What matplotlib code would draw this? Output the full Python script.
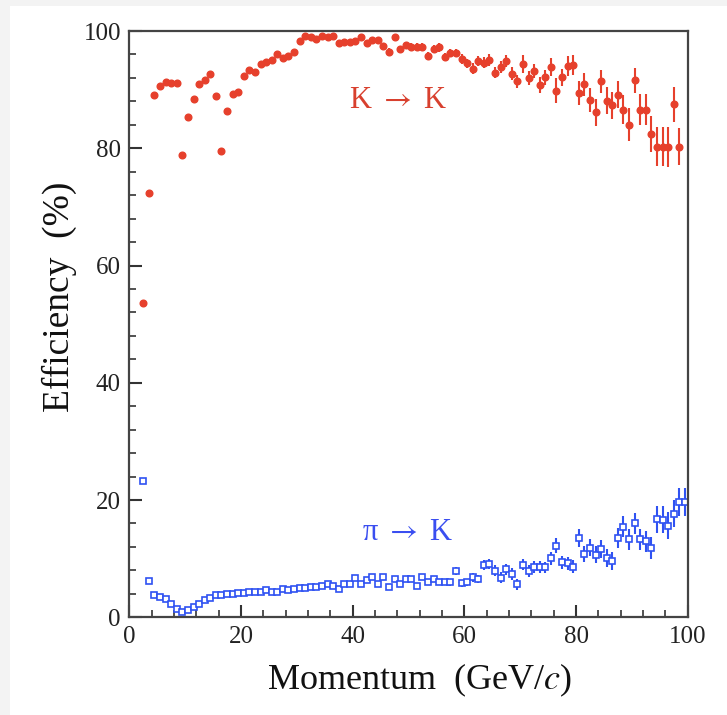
import matplotlib
matplotlib.use("Agg")
from matplotlib import pyplot as plt
from matplotlib.patches import Rectangle
from matplotlib.ticker import MultipleLocator

plt.rcParams['font.family'] = ['Liberation Serif', 'DejaVu Serif']
plt.rcParams['mathtext.fontset'] = 'stix'

# K -> K efficiency (%), bins of 1 GeV/c
k_p = [i + 0.5 for i in range(2, 99)]
k_eff = [53.6, 72.4, 89.0, 90.7, 91.3, 91.2, 91.2, 78.8, 85.4, 88.4,
         90.9, 91.7, 92.6, 88.9, 79.6, 86.3, 89.3, 89.6, 92.3, 93.4,
         93.0, 94.4, 94.7, 95.1, 96.1, 95.4, 95.7, 96.4, 98.3, 99.1,
         98.9, 98.6, 99.2, 98.9, 99.2, 97.9, 98.1, 98.1, 98.3, 98.9,
         98.0, 98.5, 98.5, 97.5, 96.5, 98.9, 96.9, 97.6, 97.3, 97.3,
         97.3, 95.7, 96.9, 97.2, 95.6, 96.2, 96.2, 95.2, 94.5, 93.6,
         94.9, 94.6, 95.0, 92.9, 93.8, 94.9, 92.7, 91.4, 94.4, 92.0,
         93.1, 90.8, 92.1, 93.9, 89.8, 92.1, 94.0, 94.2, 89.4, 90.9,
         88.2, 86.1, 91.4, 88.1, 87.3, 89.1, 86.6, 84.0, 91.6, 86.6,
         86.6, 82.4, 80.3, 80.3, 80.2, 87.5, 80.3]
k_err = [0.3, 0.3, 0.3, 0.3, 0.3, 0.3, 0.3, 0.3, 0.3, 0.3,
         0.3, 0.3, 0.3, 0.3, 0.5, 0.3, 0.3, 0.3, 0.3, 0.3,
         0.3, 0.3, 0.3, 0.3, 0.3, 0.3, 0.3, 0.3, 0.3, 0.3,
         0.3, 0.3, 0.3, 0.3, 0.3, 0.3, 0.3, 0.3, 0.3, 0.3,
         0.4, 0.4, 0.4, 0.5, 0.6, 0.5, 0.6, 0.6, 0.6, 0.6,
         0.6, 0.7, 0.7, 0.7, 0.7, 0.7, 0.7, 0.8, 0.8, 0.9,
         0.9, 0.9, 1.0, 1.0, 1.0, 1.0, 1.1, 1.1, 1.5, 1.2,
         1.2, 1.3, 1.3, 1.5, 2.1, 1.5, 1.7, 1.7, 2.1, 2.0,
         2.1, 2.3, 2.0, 2.3, 2.3, 2.3, 2.5, 2.8, 2.1, 2.6,
         2.6, 3.1, 3.4, 3.4, 3.4, 3.0, 3.1]

# pi -> K misidentification (%)
pi_p = [i + 0.5 for i in range(2, 100)]
pi_eff = [23.2, 6.2, 3.8, 3.5, 3.1, 2.2, 1.5, 0.9, 1.2, 1.8,
          2.3, 3.0, 3.3, 3.75, 3.75, 4.0, 4.0, 4.1, 4.1, 4.4,
          4.4, 4.4, 4.65, 4.4, 4.4, 4.8, 4.65, 4.8, 4.95, 4.95,
          5.2, 5.2, 5.4, 5.7, 5.4, 4.8, 5.7, 5.7, 6.65, 5.7,
          6.4, 6.8, 5.7, 6.8, 5.1, 6.5, 5.7, 6.5, 6.5, 5.4,
          6.8, 6.1, 6.5, 6.1, 6.1, 6.0, 7.95, 5.8, 6.0, 6.8,
          6.5, 8.9, 9.1, 7.95, 6.75, 8.2, 7.4, 5.6, 9.0, 7.9,
          8.6, 8.6, 8.5, 10.1, 12.2, 9.4, 9.2, 8.6, 13.5, 10.8,
          11.9, 10.7, 11.65, 10.1, 9.65, 13.5, 15.45, 13.3, 16.0, 13.3,
          13.0, 11.8, 16.7, 16.6, 15.6, 17.7, 19.6, 19.7]
pi_err = [0.2, 0.2, 0.2, 0.2, 0.2, 0.2, 0.2, 0.2, 0.2, 0.2,
          0.2, 0.2, 0.2, 0.2, 0.2, 0.2, 0.2, 0.2, 0.2, 0.2,
          0.2, 0.2, 0.2, 0.2, 0.2, 0.2, 0.2, 0.2, 0.2, 0.2,
          0.2, 0.2, 0.3, 0.3, 0.3, 0.3, 0.3, 0.3, 0.4, 0.4,
          0.4, 0.4, 0.4, 0.4, 0.4, 0.5, 0.5, 0.5, 0.5, 0.5,
          0.5, 0.5, 0.5, 0.5, 0.5, 0.6, 0.7, 0.6, 0.6, 0.7,
          0.7, 0.9, 0.9, 0.9, 0.9, 0.9, 1.0, 1.0, 1.0, 1.0,
          1.0, 1.0, 1.0, 1.1, 1.3, 1.1, 1.1, 1.1, 1.5, 1.4,
          1.4, 1.4, 1.5, 1.5, 1.5, 1.7, 1.8, 1.8, 1.8, 1.8,
          1.8, 1.9, 2.3, 2.3, 2.3, 2.3, 2.4, 2.4]

red = '#e6402c'
blue = '#2f52f2'

fig = plt.figure(figsize=(7.27, 7.15), dpi=100, facecolor='#f3f3f3')
fig.patches.append(Rectangle((10 / 727, 0), 1, 1 - 6 / 715, transform=fig.transFigure,
                             facecolor='white', edgecolor='none', zorder=-1))
ax = fig.add_axes([129.3 / 727, 1 - 617.3 / 715, 558.4 / 727, 586.3 / 715])

ax.errorbar(k_p, k_eff, yerr=k_err, fmt='o', color=red, ms=4.8, mec=red,
            elinewidth=1.5, capsize=0)
ax.errorbar(pi_p, pi_eff, yerr=pi_err, fmt='s', color=blue, ms=4.8, mfc='white',
            mec=blue, mew=1.2, elinewidth=1.5, capsize=0)

# labels on the curves
ax.text(48.2, 88.2, r'K $\rightarrow$ K', color='#d8402e', fontsize=22, ha='center', va='center')
ax.text(49.9, 14.5, '\u03c0' + r' $\rightarrow$ K', color='#3a4ef0', fontsize=22,
        ha='center', va='center')

ax.set_xlim(0, 100)
ax.set_ylim(0, 100)
ax.xaxis.set_major_locator(MultipleLocator(20))
ax.xaxis.set_minor_locator(MultipleLocator(4))
ax.yaxis.set_major_locator(MultipleLocator(20))
ax.yaxis.set_minor_locator(MultipleLocator(4))
ax.tick_params(which='both', direction='in', top=False, right=False,
               color='#333333', labelsize=18, labelcolor='#222222')
ax.tick_params(which='major', length=9, width=1.5, pad=6)
ax.tick_params(which='minor', length=5, width=1.2)
for s in ax.spines.values():
    s.set_linewidth(1.6)
    s.set_color('#444444')

ax.set_xlabel('Momentum  (GeV/$c$)', fontsize=26, color='#111111')
ax.set_ylabel('Efficiency  (%)', fontsize=27, color='#111111')
ax.xaxis.set_label_coords(0.52, -0.075)
ax.yaxis.set_label_coords(-0.093, 0.546)

fig.savefig('out.png', dpi=100, facecolor=fig.get_facecolor())
